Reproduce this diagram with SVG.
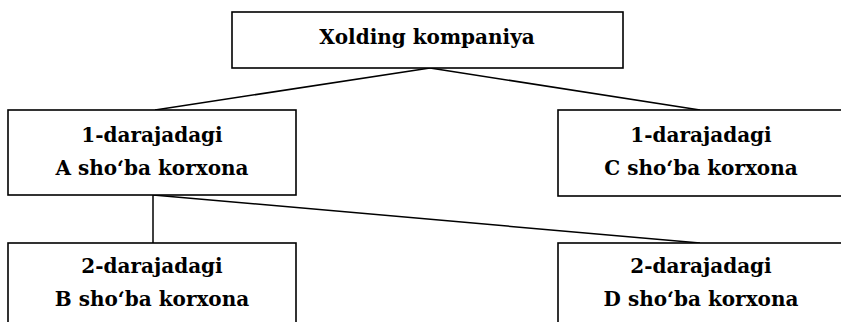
<svg xmlns="http://www.w3.org/2000/svg" width="841" height="322" viewBox="0 0 841 322">
<style>
.box{fill:#fff;stroke:#000;stroke-width:1.6}
.t{font-family:'DejaVu Serif',serif;font-weight:bold;font-size:20px;text-anchor:middle;fill:#000}
.c{stroke:#000;stroke-width:1.5;fill:none}
</style>
<rect width="841" height="322" fill="#fff"/>
<g id="connectors">
<line class="c" x1="430" y1="68" x2="155" y2="110"/>
<line class="c" x1="430" y1="68" x2="700" y2="110"/>
<line class="c" x1="153" y1="195" x2="153" y2="243"/>
<line class="c" x1="153" y1="195" x2="700" y2="243"/>
</g>
<g id="holding">
<rect class="box" x="232" y="12" width="391" height="56"/>
<text class="t" x="427" y="44">Xolding kompaniya</text>
</g>
<g id="nodeA">
<rect class="box" x="8" y="110" width="288" height="85"/>
<text class="t" x="152" y="142">1-darajadagi</text>
<text class="t" x="152" y="175">A sho‘ba korxona</text>
</g>
<g id="nodeC">
<rect class="box" x="558" y="110" width="288" height="86"/>
<text class="t" x="701" y="142">1-darajadagi</text>
<text class="t" x="701" y="175">C sho‘ba korxona</text>
</g>
<g id="nodeB">
<rect class="box" x="8" y="243" width="288" height="100"/>
<text class="t" x="152" y="273">2-darajadagi</text>
<text class="t" x="152" y="306">B sho‘ba korxona</text>
</g>
<g id="nodeD">
<rect class="box" x="558" y="243" width="288" height="100"/>
<text class="t" x="701" y="273">2-darajadagi</text>
<text class="t" x="701" y="306">D sho‘ba korxona</text>
</g>
</svg>
